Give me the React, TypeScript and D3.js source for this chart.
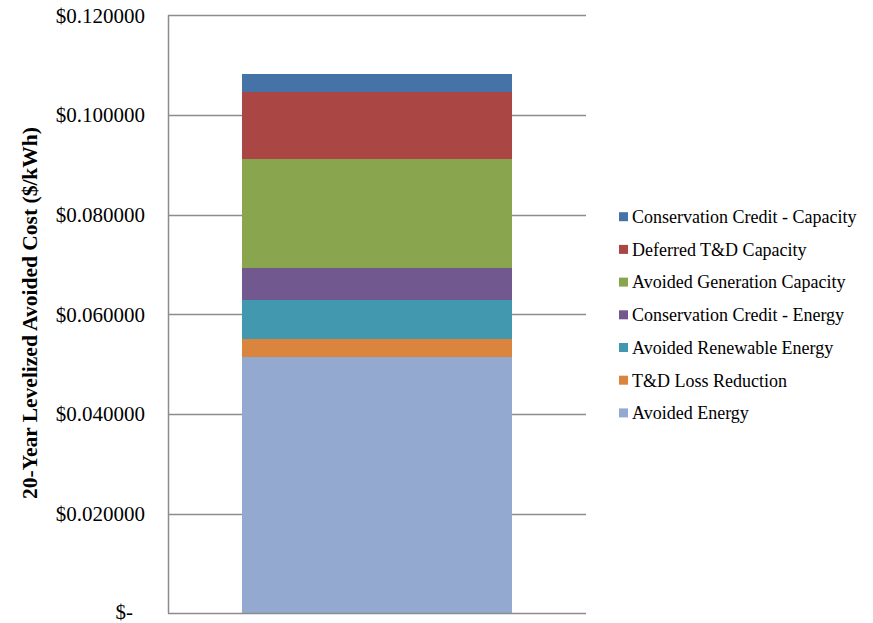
import React from "react";
import * as d3 from "d3";

const seriesNames = [
  "Avoided Energy",
  "T&D Loss Reduction",
  "Avoided Renewable Energy",
  "Conservation Credit - Energy",
  "Avoided Generation Capacity",
  "Deferred T&D Capacity",
  "Conservation Credit - Capacity",
];
const seriesValues = [0.05143, 0.00361, 0.00783, 0.00642, 0.02187, 0.01345, 0.00361];
const seriesColors = ["#93A9CF", "#DB843D", "#4198AF", "#71588F", "#89A54E", "#AA4643", "#4572A7"];
const tickValues = [0, 0.02, 0.04, 0.06, 0.08, 0.1, 0.12];
const tickLabels = ["$-", "$0.020000", "$0.040000", "$0.060000", "$0.080000", "$0.100000", "$0.120000"];
const yTitle = "20-Year Levelized Avoided Cost ($/kWh)";
const category = ["Total"];

export default function App() {
  const W = 873, H = 623;
  const left = 168, right = 586, top = 15.3, bottom = 613.3;
  const y = d3.scaleLinear().domain([0, 0.12]).range([bottom, top]);
  const x = d3.scaleBand().domain(category).range([left, right]).paddingInner(0).paddingOuter(0.274);
  const row: Record<string, number> = { Total: 0 };
  seriesNames.forEach((n, i) => (row[n] = seriesValues[i]));
  const stack = d3.stack<Record<string, number>>().keys(seriesNames)([row]);
  const font = "'Liberation Serif', 'Times New Roman', serif";
  const legendOrder = seriesNames.map((n, i) => i).reverse();
  return (
    <svg width={W} height={H} style={{ position: "absolute", left: 0, top: 0, background: "#fff" }} fontFamily={font}>
      {tickValues.map((t, i) => (
        <g key={i}>
          {i > 0 && (
            <line x1={left} x2={right} y1={Math.round(y(t)) + 0.5} y2={Math.round(y(t)) + 0.5} stroke="#8c8c8c" strokeWidth={1.5} />
          )}
          <text
            x={t === 0 ? 133 : 145}
            y={t === 0 ? y(t) - 1.5 : y(t)}
            dy="0.35em"
            textAnchor="end"
            fontSize={21}
            fill="#000"
          >
            {tickLabels[i]}
          </text>
        </g>
      ))}
      {stack.map((s, i) => (
        <rect
          key={s.key}
          x={x("Total")}
          width={x.bandwidth()}
          y={y(s[0][1])}
          height={y(s[0][0]) - y(s[0][1])}
          fill={seriesColors[i]}
        />
      ))}
      <line x1={left + 0.5} x2={left + 0.5} y1={top} y2={bottom} stroke="#8c8c8c" strokeWidth={1.5} />
      <line x1={left} x2={right} y1={Math.round(bottom) + 0.5} y2={Math.round(bottom) + 0.5} stroke="#8c8c8c" strokeWidth={1.5} />
      <text
        transform={`translate(37, 313) rotate(-90)`}
        textAnchor="middle"
        fontWeight="bold"
        fontSize={21.5}
        fill="#000"
      >
        {yTitle}
      </text>
      {legendOrder.map((idx, k) => {
        const cy = 216.7 + k * 32.7;
        return (
          <g key={idx}>
            <rect x={619} y={cy - 4.5} width={9} height={9} fill={seriesColors[idx]} />
            <text x={632} y={cy} dy="0.35em" fontSize={18} fill="#000">
              {seriesNames[idx]}
            </text>
          </g>
        );
      })}
    </svg>
  );
}
